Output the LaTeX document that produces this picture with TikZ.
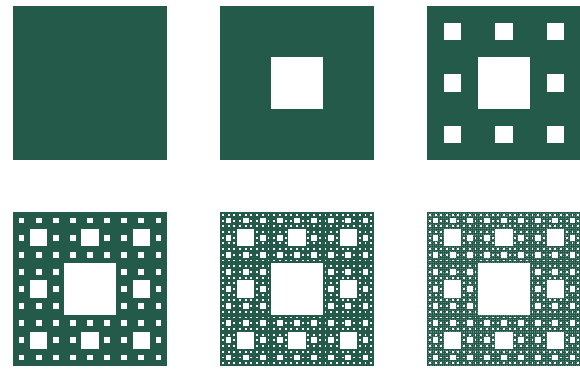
\documentclass[tikz,border=0pt]{standalone}
\definecolor{carpetgreen}{HTML}{245A4A}
\tikzset{solidsq/.style={fill=carpetgreen}, hole/.style={fill=white}, tinyhole/.style={fill=carpetgreen!75!white}}
\makeatletter
\def\carpetholes#1#2#3#4#5{%
  \ifnum#4>0
  \begingroup
    \pgfmathsetmacro\t{#3/3}%
    \pgfmathsetmacro\xa{#1}\pgfmathsetmacro\ya{#2}%
    \pgfmathsetmacro\xb{#1+\t}\pgfmathsetmacro\yb{#2+\t}%
    \pgfmathsetmacro\xc{#1+2*\t}\pgfmathsetmacro\yc{#2+2*\t}%
    \ifnum#4=1 \def\hs{#5}\else\def\hs{hole}\fi
    \fill[\hs] (\xb,\yb) rectangle (\xc,\yc);
    \pgfmathtruncatemacro\m{#4-1}%
    \ifnum\m>0
      \edef\next{%
        \noexpand\carpetholes{\xa}{\ya}{\t}{\m}{#5}%
        \noexpand\carpetholes{\xb}{\ya}{\t}{\m}{#5}%
        \noexpand\carpetholes{\xc}{\ya}{\t}{\m}{#5}%
        \noexpand\carpetholes{\xa}{\yb}{\t}{\m}{#5}%
        \noexpand\carpetholes{\xc}{\yb}{\t}{\m}{#5}%
        \noexpand\carpetholes{\xa}{\yc}{\t}{\m}{#5}%
        \noexpand\carpetholes{\xb}{\yc}{\t}{\m}{#5}%
        \noexpand\carpetholes{\xc}{\yc}{\t}{\m}{#5}%
      }\next
    \fi
  \endgroup
  \fi}
\def\carpet#1#2#3#4{%
  \fill[solidsq] (#1,#2) rectangle ++(154,154);
  \carpetholes{#1}{#2}{154}{#3}{#4}}
\makeatother
\begin{document}
\begin{tikzpicture}[x=1pt,y=-1pt]
\useasboundingbox (0,0) rectangle (580,370);
\clip (0,0) rectangle (580,370);
\fill[white] (0,0) rectangle (580,370);
\carpet{13}{6}{0}{hole}
\carpet{220}{6}{1}{hole}
\carpet{427}{6}{2}{hole}
\carpet{13}{212}{3}{hole}
\carpet{220}{212}{4}{hole}
\carpet{427}{212}{5}{tinyhole}
\end{tikzpicture}
\end{document}
